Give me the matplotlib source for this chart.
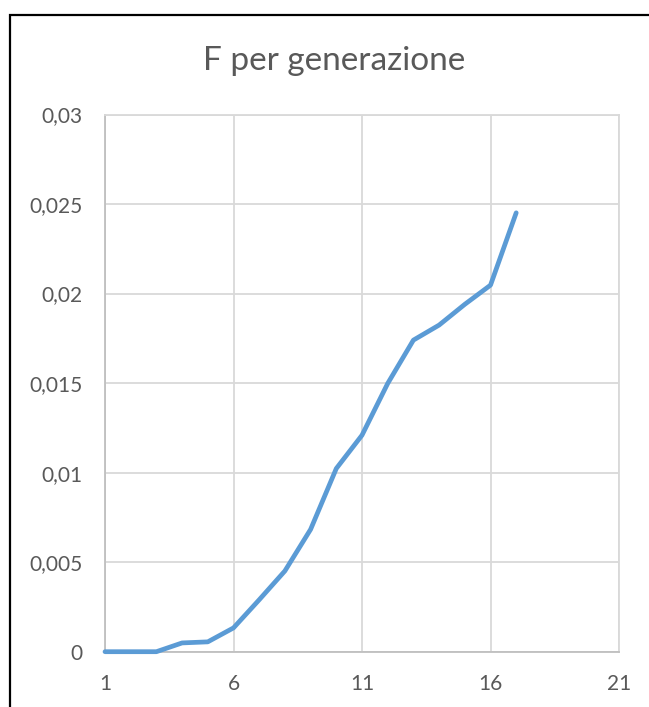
import matplotlib
matplotlib.use("Agg")
import matplotlib.pyplot as plt
from matplotlib.ticker import FuncFormatter, FixedLocator
from matplotlib.patches import Rectangle

# Inbreeding coefficient F per generation
generations = list(range(1, 18))
f_values = [0.0, 0.0, 0.0, 0.00049, 0.00055, 0.00133, 0.0029, 0.00451, 0.00683,
            0.01023, 0.01209, 0.01498, 0.0174, 0.01824, 0.0194, 0.02047, 0.02451]
x_ticks = [1, 6, 11, 16, 21]
y_ticks = [0, 0.005, 0.01, 0.015, 0.02, 0.025, 0.03]
title = "F per generazione"

W, H = 649, 707
plt.rcParams['font.family'] = ['Lato', 'DejaVu Sans']
fig = plt.figure(figsize=(W / 100, H / 100), dpi=100)
fig.patch.set_facecolor('white')

# chart frame
fig.patches.append(Rectangle((10 / W, -0.1), 2.0, (H - 15) / H + 0.1,
                             transform=fig.transFigure, fill=False,
                             edgecolor='black', linewidth=1.6))

left, right = 105 / W, 619 / W
bottom, top = (H - 651.7) / H, (H - 114.5) / H
ax = fig.add_axes([left, bottom, right - left, top - bottom])

ax.plot(generations, f_values, color='#5b9bd5', linewidth=3.4,
        solid_capstyle='round', solid_joinstyle='round', clip_on=False, zorder=5)

ax.set_xlim(1, 21)
ax.set_ylim(0, 0.03)
ax.xaxis.set_major_locator(FixedLocator(x_ticks))
ax.yaxis.set_major_locator(FixedLocator(y_ticks))
ax.yaxis.set_major_formatter(FuncFormatter(lambda v, p: ('%g' % round(v, 4)).replace('.', ',')))
ax.xaxis.set_major_formatter(FuncFormatter(lambda v, p: '%d' % v))

ax.grid(True, color='#d9d9d9', linewidth=1.3)
ax.set_axisbelow(True)
for side in ['top', 'right']:
    ax.spines[side].set_color('#d9d9d9')
    ax.spines[side].set_linewidth(1.3)
for side in ['left', 'bottom']:
    ax.spines[side].set_color('#bfbfbf')
    ax.spines[side].set_linewidth(1.3)

ax.tick_params(axis='both', length=0, labelsize=15, colors='#595959')
ax.tick_params(axis='y', pad=16)
ax.tick_params(axis='x', pad=16)

fig.text(334 / W, (H - 69.5) / H, title, ha='center', va='baseline',
         fontsize=24, color='#595959')

fig.savefig('out.png', dpi=100, facecolor='white')
